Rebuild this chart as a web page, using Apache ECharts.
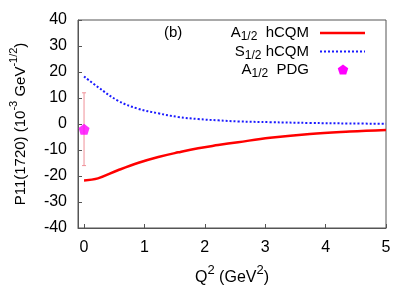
<!DOCTYPE html>
<html><head><meta charset="utf-8">
<script src="https://cdn.jsdelivr.net/npm/echarts@6/dist/echarts.min.js"></script>
<style>html,body{margin:0;padding:0;background:#fff}#c{width:415px;height:291px}</style>
</head><body><div id="c"></div>
<script>
// Data
var q2 = [0, 0.23, 0.56, 0.89, 1.23, 1.56, 1.89, 2.22, 2.55, 3.08, 3.74, 4.40, 5.0];
var a12_hcqm = [-21.7, -20.9, -17.8, -15.0, -12.7, -10.9, -9.3, -8.1, -7.0, -5.3, -3.8, -2.9, -2.3];
var s12_hcqm = [18.3, 14.2, 9.0, 5.9, 4.1, 2.7, 1.9, 1.4, 1.0, 0.7, 0.4, 0.2, 0.1];
var pdgQ2 = [0];
var pdgA12 = [-2];
var pdgErr = [14];
var xTicks = [0, 1, 2, 3, 4, 5];

var FONT = "'Liberation Sans', Arial, sans-serif";
var pent = 'path://M0,-10 L9.51,-3.09 L5.88,8.09 L-5.88,8.09 L-9.51,-3.09 Z';
function pairs(xs, ys){ return xs.map(function(x,i){return [x, ys[i]];}); }
function pentPts(cx, cy, r){
  var p = [];
  for (var k = 0; k < 5; k++) { var a = -Math.PI/2 + k*2*Math.PI/5; p.push([cx + r*Math.cos(a), cy + r*Math.sin(a)]); }
  return p;
}

var chart = echarts.init(document.getElementById('c'));
var axisColor = '#555';
var legRich = {n: {fontSize: 15, fontFamily: FONT, fill: '#000', color: '#000', lineHeight: 20, verticalAlign: 'middle'},
               s: {fontSize: 12, fontFamily: FONT, fill: '#000', color: '#000', lineHeight: 20, verticalAlign: 'bottom'}};
chart.setOption({
  animation: false,
  textStyle: {fontFamily: FONT},
  grid: {left: 78, top: 20, right: 29, bottom: 52, show: true, borderColor: axisColor, borderWidth: 1},
  xAxis: {
    type: 'value', min: -0.1, max: 5,
    axisLine: {show: true, onZero: false, lineStyle: {color: axisColor}},
    splitLine: {show: false},
    axisTick: {inside: true, length: 4, lineStyle: {color: axisColor}, customValues: xTicks},
    axisLabel: {color: '#000', fontSize: 16, margin: 12, fontFamily: FONT, customValues: xTicks},
    name: '{n|Q}{s|2}{n| (GeV}{s|2}{n|)}',
    nameLocation: 'middle', nameGap: 36,
    nameTextStyle: {rich: {
      n: {fontSize: 16, color: '#000', fontFamily: FONT, lineHeight: 22, verticalAlign: 'bottom'},
      s: {fontSize: 13, color: '#000', fontFamily: FONT, lineHeight: 22, verticalAlign: 'top'}
    }}
  },
  yAxis: {
    type: 'value', min: -40, max: 40, interval: 10,
    axisLine: {show: true, onZero: false, lineStyle: {color: axisColor}},
    splitLine: {show: false},
    axisTick: {inside: true, length: 4, lineStyle: {color: axisColor}},
    axisLabel: {color: '#000', fontSize: 16, margin: 11, fontFamily: FONT},
    name: '{n|P11(1720) (10}{s|-3}{n| GeV}{s|-1/2}{n|)}',
    nameLocation: 'middle', nameGap: 50,
    nameTextStyle: {rich: {
      n: {fontSize: 15, color: '#000', fontFamily: FONT, lineHeight: 20, verticalAlign: 'bottom'},
      s: {fontSize: 11, color: '#000', fontFamily: FONT, lineHeight: 20, verticalAlign: 'top'}
    }}
  },
  series: [
    {name: 'A1/2 hCQM', type: 'line', data: pairs(q2, a12_hcqm), smooth: 0.4, showSymbol: false,
     lineStyle: {color: '#ff0000', width: 2.5}, z: 3},
    {name: 'S1/2 hCQM', type: 'line', data: pairs(q2, s12_hcqm), smooth: 0.4, showSymbol: false,
     lineStyle: {color: '#1a1aff', width: 2, type: [2, 2]}, z: 3},
    {name: 'A1/2 PDG err', type: 'custom', z: 2, encode: {x: 0, y: [1, 2]},
     data: pdgQ2.map(function(x,i){return [x, pdgA12[i]-pdgErr[i], pdgA12[i]+pdgErr[i]];}),
     renderItem: function(params, api){
       var lo = api.coord([api.value(0), api.value(1)]);
       var hi = api.coord([api.value(0), api.value(2)]);
       var c = 2;
       var st = {stroke: '#f09098', lineWidth: 1, fill: null};
       return {type: 'group', children: [
         {type: 'line', shape: {x1: lo[0], y1: lo[1], x2: hi[0], y2: hi[1]}, style: st},
         {type: 'line', shape: {x1: lo[0]-c, y1: lo[1], x2: lo[0]+c, y2: lo[1]}, style: st},
         {type: 'line', shape: {x1: hi[0]-c, y1: hi[1], x2: hi[0]+c, y2: hi[1]}, style: st}
       ]};
     }},
    {name: 'A1/2 PDG', type: 'scatter', data: pairs(pdgQ2, pdgA12), symbol: pent, symbolSize: 11,
     itemStyle: {color: '#ff00ff'}, z: 4}
  ],
  graphic: [
    {type: 'text', style: {text: '(b)', x: 164, y: 33, fill: '#000', font: '15px ' + FONT, verticalAlign: 'middle'}},
    {type: 'text', style: {text: '{n|A}{s|1/2}{n|  hCQM}', x: 309, y: 33, align: 'right', verticalAlign: 'middle', rich: legRich}},
    {type: 'text', style: {text: '{n|S}{s|1/2}{n| hCQM}', x: 309, y: 52, align: 'right', verticalAlign: 'middle', rich: legRich}},
    {type: 'text', style: {text: '{n|A}{s|1/2}{n|  PDG}', x: 309, y: 70, align: 'right', verticalAlign: 'middle', rich: legRich}},
    {type: 'line', shape: {x1: 320, y1: 33, x2: 365, y2: 33}, style: {stroke: '#ff0000', lineWidth: 2.5}},
    {type: 'line', shape: {x1: 320, y1: 51.5, x2: 365, y2: 51.5}, style: {stroke: '#1a1aff', lineWidth: 2, lineDash: [2, 2]}},
    {type: 'polygon', shape: {points: pentPts(343, 70, 5.5)}, style: {fill: '#ff00ff'}}
  ]
});
</script></body></html>
